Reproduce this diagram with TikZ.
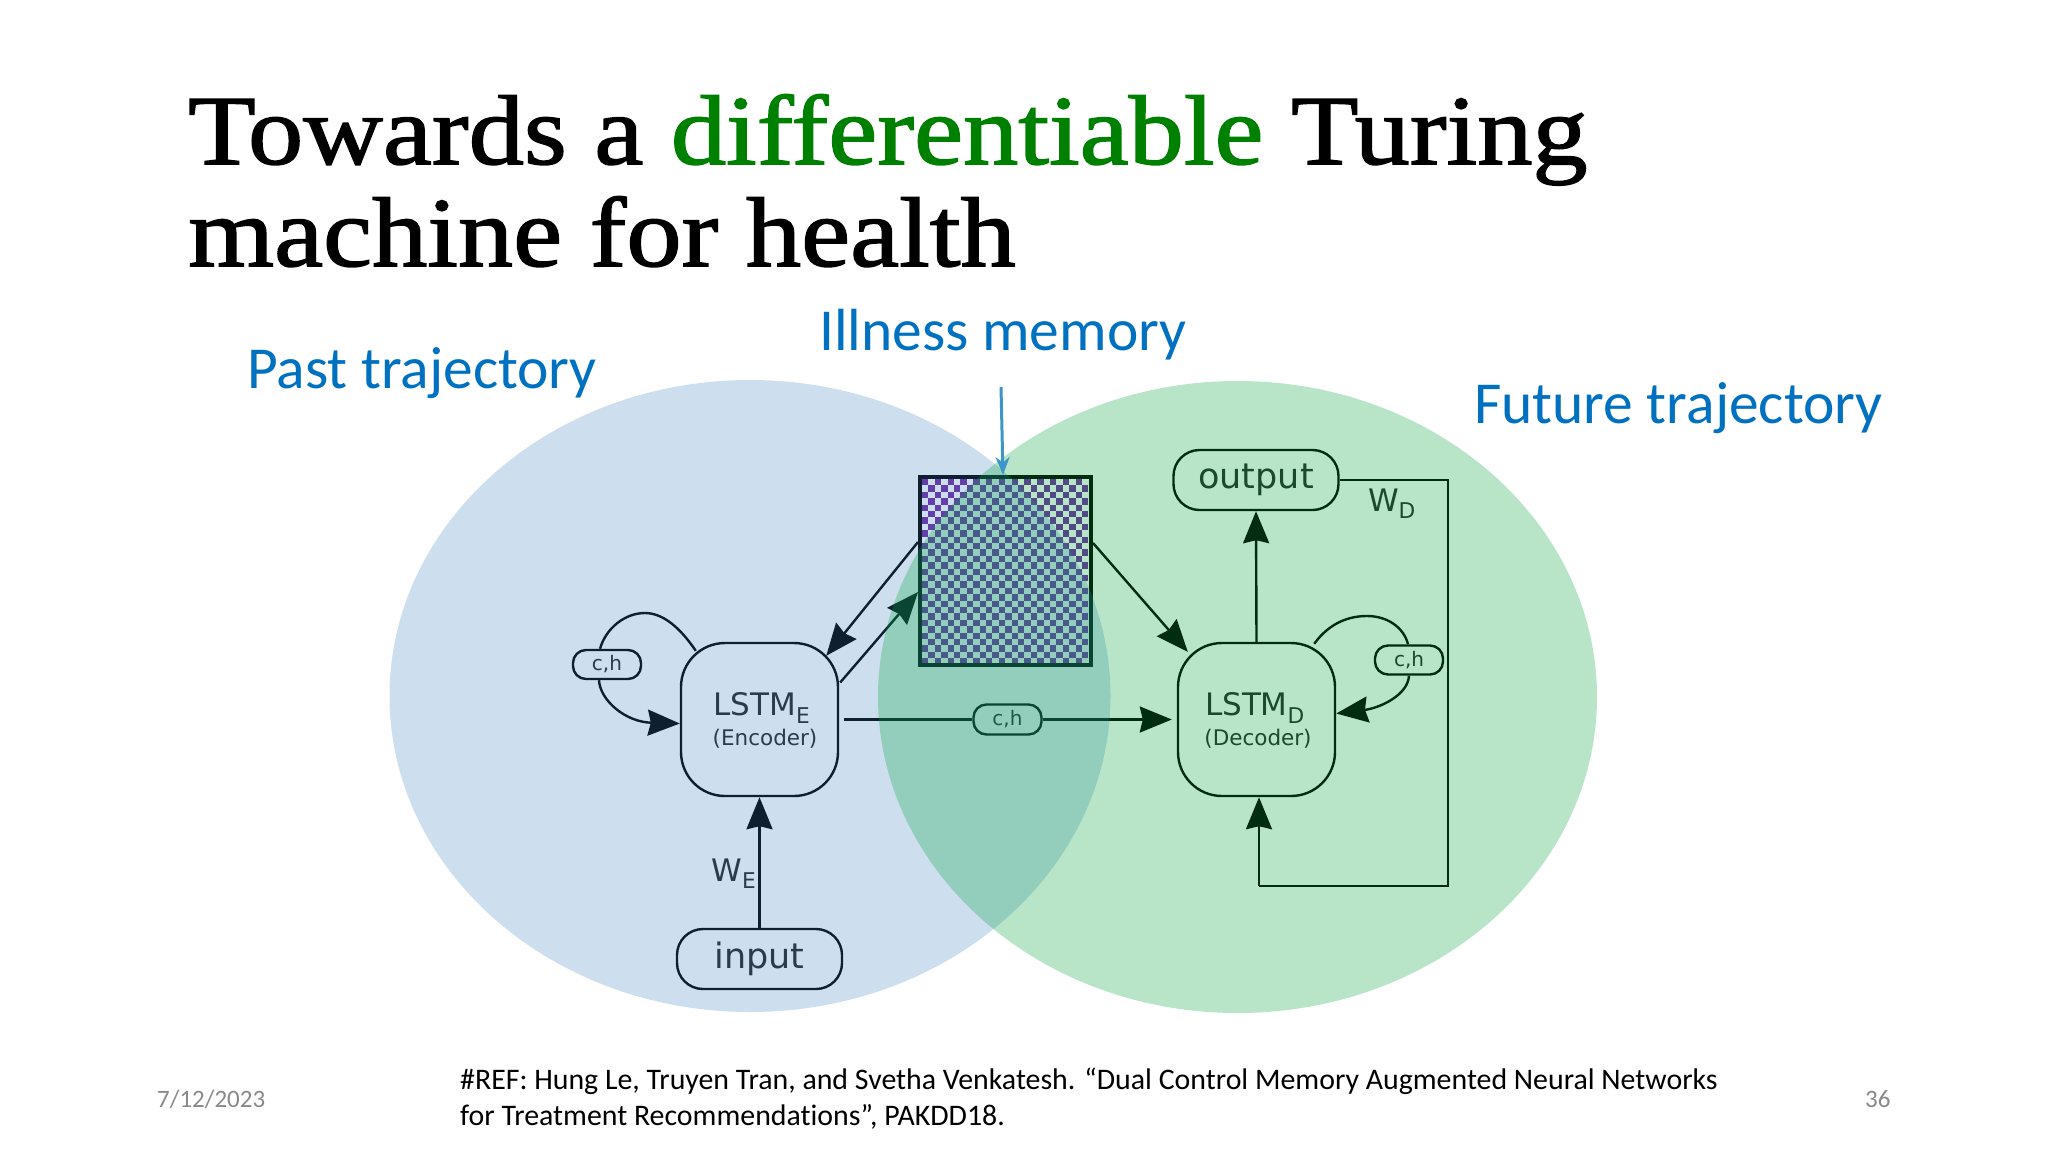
\documentclass[tikz,border=0pt]{standalone}
\usepackage{fontspec}
\usetikzlibrary{arrows.meta,positioning}
\newfontfamily\titlefont[FakeStretch=1.115,FakeBold=1.5]{Liberation Serif}
\newfontfamily\slidefont[Ligatures=NoCommon]{Carlito}
\newfontfamily\diagfont{DejaVu Sans}
\definecolor{titlegreen}{RGB}{0,128,0}
\definecolor{labelblue}{RGB}{0,112,192}
\definecolor{pastblue}{RGB}{56,128,192}
\definecolor{futgreen}{RGB}{0,164,60}
\definecolor{cellpurple}{RGB}{115,40,165}
\definecolor{datagray}{RGB}{137,137,137}
\definecolor{notegray}{RGB}{60,150,200}
\tikzset{
    lstm/.style={draw, line width=2.4pt, rounded corners=44pt, minimum width=157pt, minimum height=153pt, inner sep=0pt, align=center, text=black!85, font=\diagfont},
    pill/.style={draw, line width=2.4pt, rounded corners=26pt, minimum width=165pt, minimum height=60pt, inner sep=0pt, fill=white, text=black!85, font=\diagfont\fontsize{35}{35}\selectfont},
    smallpill/.style={draw, line width=2.4pt, rounded corners=13pt, minimum width=68pt, minimum height=29pt, inner sep=0pt, fill=white, text=black!85, font=\diagfont\fontsize{20}{20}\selectfont},
    slidetext/.style={anchor=base west, inner sep=0pt, font=\slidefont},
    wire/.style={line width=2.4pt},
}
\begin{document}
\begin{tikzpicture}[x=1pt, y=-1pt, >={Stealth[length=32pt,width=26pt,inset=3pt]}]
    \useasboundingbox (0,0) rectangle (2048,1152);
    \fill [white] (0,0) rectangle (2048,1152);

    % Title
    \node [slidetext, font=\titlefont\fontsize{99}{99}\selectfont] (title1) at (188,164) {Towards a \textcolor{titlegreen}{differentiable} Turing};
    \node [slidetext, font=\titlefont\fontsize{99}{99}\selectfont] (title2) at (188,266) {machine for health};

    % Memory cells
    \foreach \i in {0,...,25} {
        \foreach \j in {0,...,28} {
            \pgfmathtruncatemacro{\odd}{mod(\i+\j,2)}
            \ifnum\odd=0
                \fill [cellpurple] (922+\i*6.4,479+\j*6.4) rectangle ++(6.4,6.4);
            \fi
        }
    }

    % Nodes {enc, dec, mem, etc}
    \node [lstm] (enc) at (759.5,719.5) {};
    \node [lstm] (dec) at (1256.5,719.5) {};
    \node [draw, line width=4pt, minimum width=171pt, minimum height=188pt, inner sep=0pt] (mem) at (1005.5,571) {};
    \node [pill] (inp) at (759.5,959) {input};
    \node [pill] (out) at (1256,480) {output};
    \node [smallpill] (chl) at (607,664.5) {c,h};
    \node [smallpill] (chr) at (1409,660) {c,h};
    \node [smallpill, minimum height=30pt] (chm) at (1007.5,719.5) {c,h};

    % Texts of the boxes
    \node [inner sep=0pt, text=black!85, font=\diagfont\fontsize{31}{31}\selectfont] (enct) at (762,708) {LSTM\textsubscript{E}};
    \node [inner sep=0pt, text=black!85, font=\diagfont\fontsize{21.5}{21.5}\selectfont, below=6pt of enct, xshift=3pt] {(Encoder)};
    \node [inner sep=0pt, text=black!85, font=\diagfont\fontsize{31}{31}\selectfont] (dect) at (1255,708) {LSTM\textsubscript{D}};
    \node [inner sep=0pt, text=black!85, font=\diagfont\fontsize{21.5}{21.5}\selectfont, below=6pt of dect, xshift=3pt] {(Decoder)};
    \node [inner sep=0pt, text=black!85, font=\diagfont\fontsize{31}{31}\selectfont] (we) at (734,874) {W\textsubscript{E}};
    \node [inner sep=0pt, text=black!85, font=\diagfont\fontsize{31}{31}\selectfont] (wd) at (1392,504) {W\textsubscript{D}};

    % Return path
    \coordinate (fb2) at (1448,886);
    \coordinate (fb3) at (1259,886);

    % Paths
    \path [->, wire] (inp.north) edge (enc.south);
    \path [->, wire] (dec.north) edge (out.south);
    \path [->, wire] ([yshift=29pt]mem.west) edge ([xshift=-13pt,yshift=-14pt]enc.north east);
    \path [->, wire] ([xshift=1pt,yshift=37pt]enc.east) edge ([yshift=-21pt]mem.west);
    \path [->, wire] ([yshift=28pt]mem.east) edge ([xshift=11pt,yshift=-10pt]dec.north west);
    \path [wire] ([xshift=5pt]enc.east) edge (chm.west);
    \path [->, wire] (chm.east) edge ([xshift=-5pt]dec.west);
    \draw [wire] ([xshift=-7pt]chl.north) .. controls (606,628) and (625,613) .. (645,613) .. controls (667,613) and (685,635) .. ([xshift=16pt,yshift=-9pt]enc.north west);
    \draw [->, wire] ([xshift=-8pt]chl.south) .. controls (600,700) and (625,722) .. ([yshift=-4pt]enc.west);
    \draw [wire] ([xshift=-22pt,yshift=-2pt]dec.north east) .. controls (1330,622) and (1350,616) .. (1367,616) .. controls (1388,616) and (1404,628) .. ([xshift=-1pt]chr.north);
    \draw [->, wire] (chr.south) .. controls (1408,695) and (1380,708) .. ([yshift=6pt]dec.east);
    \draw [wire] (out.east) -| (fb2) -- (fb3);
    \path [->, wire] (fb3) edge ([xshift=2.5pt]dec.south);

    % Ellipses
    \fill [pastblue, opacity=0.25] (750,696) ellipse [x radius=360.5, y radius=316];
    \fill [futgreen, opacity=0.28] (1237.5,697) ellipse [x radius=359.5, y radius=316];

    % Labels
    \node [slidetext, text=labelblue, font=\slidefont\fontsize{59.5}{59.5}\selectfont] (past) at (247,388) {Past trajectory};
    \node [slidetext, text=labelblue, font=\slidefont\fontsize{59.5}{59.5}\selectfont] (ill) at (819,350) {Illness memory};
    \node [slidetext, text=labelblue, font=\slidefont\fontsize{59.5}{59.5}\selectfont] (fut) at (1474,423) {Future trajectory};
    \coordinate (illfoot) at (1001,387);
    \path [-{Stealth[length=18pt,width=14pt]}, line width=3pt, notegray] (illfoot) edge ([xshift=-2.5pt]mem.north);

    % Footer
    \node [slidetext, font=\slidefont\fontsize{29.85}{29.85}\selectfont] (ref1) at (460,1089) {\#REF: Hung Le, Truyen Tran, and Svetha Venkatesh. “Dual Control Memory Augmented Neural Networks};
    \node [slidetext, font=\slidefont\fontsize{29.85}{29.85}\selectfont] (ref2) at (460,1125) {for Treatment Recommendations”, PAKDD18.};
    \node [slidetext, text=datagray, font=\slidefont\fontsize{25}{25}\selectfont] (date) at (157,1107) {7/12/2023};
    \node [slidetext, text=datagray, font=\slidefont\fontsize{25}{25}\selectfont] (num) at (1865,1107) {36};
\end{tikzpicture}
\end{document}
